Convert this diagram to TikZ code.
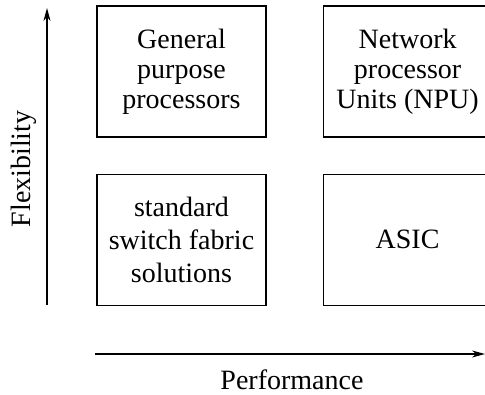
\documentclass[tikz,border=0pt]{standalone}
\usepackage{fontspec}
\setmainfont{Liberation Serif}
\usepackage{tikz}
\usetikzlibrary{arrows.meta, positioning}

\begin{document}
\begin{tikzpicture}[
  x=1pt, y=-1pt,
  node distance=36pt and 56pt,
  box/.style={rectangle, draw, minimum width=169pt, minimum height=131pt,
              align=center, font=\fontsize{28}{30}\selectfont, line width=1.1pt, inner sep=0pt},
  axislabel/.style={font=\fontsize{28}{30}\selectfont},
  arrow/.style={-{Stealth[length=13pt, width=7pt]}, line width=1.1pt}]

  \useasboundingbox (0,0) rectangle (485,395);
  \clip (0,0) rectangle (485,395);

  \node[box] (GPP) at (181.5,71.5) {General\\purpose\\processors};
  \node[box, right=of GPP] (NPU) {Network\\processor\\Units (NPU)};
  \node[box, below=of GPP, font=\fontsize{28}{33}\selectfont] (SSF)
    {standard\hspace{10pt}\\switch fabric\\solutions};
  \node[box, below=of NPU] (ASIC) {ASIC};

  \coordinate (flexlow) at (47,305);
  \coordinate (flexhigh) at (47,8);
  \coordinate (perflow) at (95,354);
  \coordinate (perfhigh) at (485,354);

  \draw[arrow] (flexlow) -- (flexhigh);
  \draw[arrow] (perflow) -- (perfhigh);

  \node[axislabel, rotate=90] (flex) at (24,169) {Flexibility};
  \node[axislabel] (perf) at (292,380) {Performance};
\end{tikzpicture}
\end{document}
